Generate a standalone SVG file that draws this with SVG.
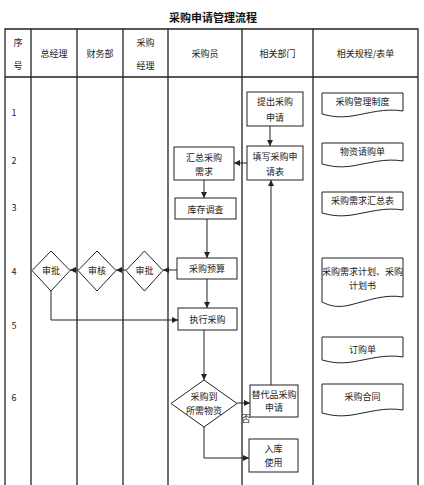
<svg xmlns="http://www.w3.org/2000/svg" width="424" height="485" viewBox="0 0 424 485">
<style>
text{font-family:"Noto Sans CJK SC","Liberation Sans",sans-serif;font-size:9px;fill:#222;text-anchor:middle;dominant-baseline:central}
.title{font-size:11px;font-weight:bold;fill:#111}
.grid{stroke:#222;stroke-width:1.3;fill:none}
.box{fill:#fff;stroke:#222;stroke-width:1}
.conn{fill:none;stroke:#222;stroke-width:1;marker-end:url(#arr)}
</style>
<defs>
<marker id="arr" viewBox="0 0 8 8" refX="8" refY="4" markerWidth="6" markerHeight="6" markerUnits="userSpaceOnUse" orient="auto">
<path d="M0,0 L8,4 L0,8 Z" fill="#222"/>
</marker>
</defs>
<rect width="424" height="485" fill="#fff"/>
<text class="title" x="213" y="17">采购申请管理流程</text>
<g id="table">
<path class="grid" d="M5,490 V29 H418 V490 M5,77 H418 M31,29 V490 M77,29 V490 M123,29 V490 M168,29 V490 M242,29 V490 M313,29 V490"/>
<text x="18" y="42">序</text><text x="18" y="65">号</text>
<text x="54" y="53">总经理</text>
<text x="100" y="53">财务部</text>
<text x="145.5" y="42">采购</text><text x="145.5" y="65">经理</text>
<text x="205" y="53">采购员</text>
<text x="277.5" y="53">相关部门</text>
<text x="365.5" y="53">相关规程/表单</text>
<text x="14" y="112">1</text>
<text x="14" y="160">2</text>
<text x="14" y="207">3</text>
<text x="14" y="271">4</text>
<text x="14" y="325">5</text>
<text x="14" y="397">6</text>
</g>
<g id="connectors">
<path class="conn" d="M270,126 V146"/>
<path class="conn" d="M247,163 H234"/>
<path class="conn" d="M204,180 V198"/>
<path class="conn" d="M207,219 V258"/>
<path class="conn" d="M177,270 H163"/>
<path class="conn" d="M126,270 H116"/>
<path class="conn" d="M78,270 H70"/>
<path class="conn" d="M51,290 V320 H178"/>
<path class="conn" d="M207,279 V308"/>
<path class="conn" d="M204,330 V380"/>
<path class="conn" d="M237,403 H250"/>
<path class="conn" d="M271,385 V180"/>
<path class="conn" d="M204,427 V458 H249"/>
</g>
<g id="n-tichu"><rect class="box" x="247" y="92" width="56" height="34"/><text x="275" y="101">提出采购</text><text x="275" y="117">申请</text></g>
<g id="n-tianxie"><rect class="box" x="247" y="146" width="56" height="34"/><text x="275" y="156">填写采购申</text><text x="275" y="171">请表</text></g>
<g id="n-huizong"><rect class="box" x="174" y="147" width="60" height="33"/><text x="204" y="157">汇总采购</text><text x="204" y="171">需求</text></g>
<g id="n-kucun"><rect class="box" x="175" y="198" width="61" height="21"/><text x="205.5" y="209">库存调查</text></g>
<g id="n-yusuan"><rect class="box" x="177" y="258" width="60" height="21"/><text x="207" y="268.5">采购预算</text></g>
<g id="n-zhixing"><rect class="box" x="178" y="308" width="59" height="22"/><text x="207.5" y="319">执行采购</text></g>
<g id="n-shenpi1"><path class="box" d="M144.5,251 L163,270.5 L144.5,291 L126,270.5 Z"/><text x="144.5" y="270">审批</text></g>
<g id="n-shenhe"><path class="box" d="M97,251 L116,270.5 L97,291 L78,270.5 Z"/><text x="97" y="270">审核</text></g>
<g id="n-shenpi2"><path class="box" d="M51,251 L70,270.5 L51,291 L32,270.5 Z"/><text x="51" y="270">审批</text></g>
<g id="n-daohuo"><path class="box" d="M204,380 L237,403.5 L204,427 L171,403.5 Z"/><text x="204" y="396">采购到</text><text x="204" y="410">所需物资</text></g>
<g id="n-tidai"><rect class="box" x="250" y="385" width="48" height="32"/><text x="274" y="394">替代品采购</text><text x="274" y="407">申请</text></g>
<text x="246" y="418">否</text>
<g id="n-ruku"><rect class="box" x="249" y="439" width="49" height="33"/><text x="273.5" y="448">入库</text><text x="273.5" y="462">使用</text></g>
<g id="d-zhidu"><path class="box" d="M322,93 H403 V111 C385,108 370,113 352,116 C338,118 330,116 322,114 Z"/><text x="362.5" y="101">采购管理制度</text></g>
<g id="d-qinggou"><path class="box" d="M322,143 H403 V161 C385,158 370,163 352,166 C338,168 330,166 322,164 Z"/><text x="362.5" y="151">物资请购单</text></g>
<g id="d-huizongbiao"><path class="box" d="M322,192 H403 V210 C385,207 370,212 352,215 C338,217 330,215 322,213 Z"/><text x="362.5" y="200">采购需求汇总表</text></g>
<g id="d-jihua"><path class="box" d="M322,258 H403 V297 C385,294 370,300 350,305 C338,308 330,306 322,302 Z"/><text x="362.5" y="271">采购需求计划、采购</text><text x="362.5" y="285">计划书</text></g>
<g id="d-dinggou"><path class="box" d="M322,337 H403 V357 C385,354 370,359 352,362 C338,364 330,362 322,360 Z"/><text x="362.5" y="349">订购单</text></g>
<g id="d-hetong"><path class="box" d="M322,384 H403 V410 C385,407 370,412 352,415 C338,417 330,415 322,413 Z"/><text x="362.5" y="396">采购合同</text></g>
</svg>
